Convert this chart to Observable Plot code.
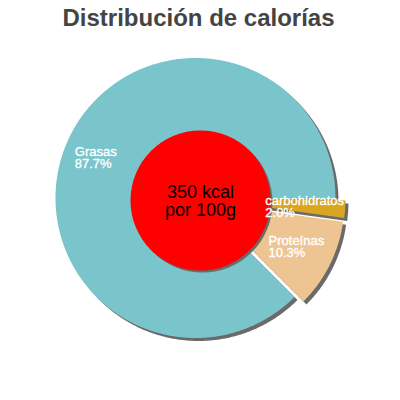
<!DOCTYPE html>
<html>
<head>
<meta charset="utf-8">
<script src="https://cdn.jsdelivr.net/npm/d3@7"></script>
<script src="https://cdn.jsdelivr.net/npm/@observablehq/plot@0.6"></script>
<style>
  html, body { margin: 0; padding: 0; background: #fff; }
  #chart { width: 400px; height: 400px; }
</style>
</head>
<body>
<div id="chart"></div>
<script>
// ---- data ----
const title = "Distribución de calorías";
const categories = ["Grasas", "carbohidratos", "Proteínas"];
const percents = [87.7, 2.0, 10.3];
const percentLabels = ["87.7%", "2.0%", "10.3%"];
const sliceColors = ["#7ac4cc", "#daa520", "#eec592"];
const explodedSlices = ["carbohidratos", "Proteínas"];
const centerLines = ["350 kcal", "por 100g"];

// ---- layout (code-level, not data) ----
const cx = 195, cy = 197.5, R = 140, explode = 10;
const deg = Math.PI / 180;
const labelNudge = {"Grasas": [0, 0], "carbohidratos": [-6, -7], "Proteínas": [5, 5]};

const pie = d3.pie().sort(null).startAngle(135 * deg).endAngle(495 * deg);
const arcs = pie(percents).map((a, i) => {
  const mid = (a.startAngle + a.endAngle) / 2;
  const off = explodedSlices.includes(categories[i]) ? explode : 0;
  const ox = cx + off * Math.sin(mid), oy = cy - off * Math.cos(mid);
  const pts = [{x: ox, y: oy}];
  const n = Math.max(4, Math.ceil((a.endAngle - a.startAngle) / (0.5 * deg)));
  for (let k = 0; k <= n; k++) {
    const t = a.startAngle + (a.endAngle - a.startAngle) * k / n;
    pts.push({x: ox + R * Math.sin(t), y: oy - R * Math.cos(t)});
  }
  pts.push({x: ox, y: oy});
  const lr = a.value > 50 ? 131 : 66;
  const [nx, ny] = labelNudge[categories[i]];
  return {
    name: categories[i], color: sliceColors[i], pts, mid,
    label: categories[i] + "\n" + percentLabels[i],
    lx: ox + lr * Math.sin(mid) + nx, ly: oy - lr * Math.cos(mid) + ny
  };
});

const marks = [];
// shadows
for (const a of arcs) {
  marks.push(Plot.line(a.pts, {x: "x", y: "y", fill: "#6a6a6a", stroke: "none", dx: 3, dy: 3}));
}
// slices
for (const a of arcs) {
  marks.push(Plot.line(a.pts, {x: "x", y: "y", fill: a.color, stroke: "none"}));
}
// center circle
marks.push(Plot.dot([centerLines], {x: () => cx, y: () => cy, r: 70, fill: "#6a6a6a", stroke: "none", dx: 7, dy: 4.5}));
marks.push(Plot.dot([centerLines], {x: () => cx, y: () => cy, r: 70, fill: "red", stroke: "none", dx: 5, dy: 2.5}));
marks.push(Plot.text([centerLines.join("\n")], {
  x: () => cx, y: () => cy, dx: 5, dy: 3, fontSize: 18, fill: "black",
  lineHeight: 1.0, lineAnchor: "middle", textAnchor: "middle"
}));
// slice labels
marks.push(Plot.text(arcs, {
  x: "lx", y: "ly", text: "label", fill: "white", fontSize: 13,
  stroke: "white", strokeWidth: 0.35,
  textAnchor: "start", lineAnchor: "top", lineHeight: 0.92, ariaLabel: "slice-labels"
}));
// title
marks.push(Plot.text([title], {
  frameAnchor: "top", dx: -2, dy: 8, fontSize: 24, fontWeight: "bold", fill: "#444",
  lineAnchor: "top", textAnchor: "middle"
}));

const svg = Plot.plot({
  width: 400, height: 400, margin: 0,
  style: {fontFamily: "'Liberation Sans', Arial, sans-serif", background: "white"},
  x: {domain: [0, 400], range: [0, 400], axis: null},
  y: {domain: [0, 400], range: [0, 400], axis: null},
  marks
});

// clip slice labels at the right like the reference
const s = d3.select(svg);
s.append("defs").append("clipPath").attr("id", "labelClip")
  .append("rect").attr("x", 0).attr("y", 0).attr("width", 348).attr("height", 400);
s.selectAll('g[aria-label="slice-labels"]').attr("clip-path", "url(#labelClip)");

document.getElementById("chart").appendChild(svg);
</script>
</body>
</html>
